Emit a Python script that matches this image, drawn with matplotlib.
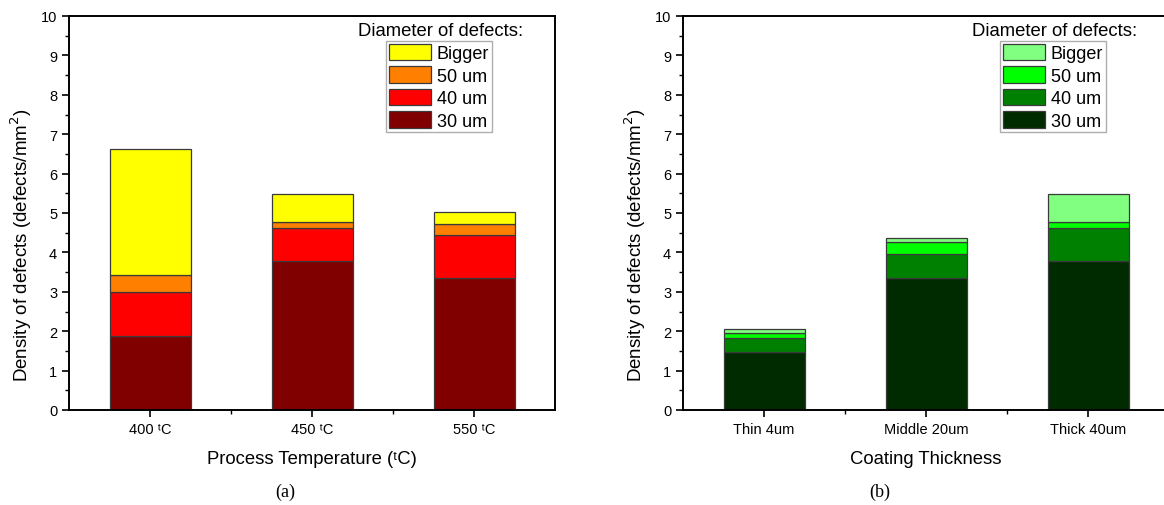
import numpy as np
import matplotlib
matplotlib.use("Agg")
import matplotlib.pyplot as plt
from matplotlib.patches import Patch
from matplotlib.ticker import MultipleLocator

plt.rcParams['font.family'] = ['Liberation Sans', 'DejaVu Sans']

# --- dados (a): temperatura de processo ---
temp_labels = ["400 \u1d57C", "450 \u1d57C", "550 \u1d57C"]
temp_30um = [1.88, 3.78, 3.35]
temp_40um = [1.12, 0.85, 1.10]
temp_50um = [0.43, 0.13, 0.27]
temp_bigger = [3.19, 0.71, 0.31]

# --- dados (b): espessura do revestimento ---
coat_labels = ["Thin 4um", "Middle 20um", "Thick 40um"]
coat_30um = [1.48, 3.35, 3.78]
coat_40um = [0.35, 0.62, 0.85]
coat_50um = [0.12, 0.30, 0.13]
coat_bigger = [0.10, 0.10, 0.71]

series_names = ["30 um", "40 um", "50 um", "Bigger"]
cores_a = ["#800000", "#FF0000", "#FF8000", "#FFFF00"]
cores_b = ["#002B00", "#008000", "#00FF00", "#80FF80"]


def plotar_painel(ax, labels, series, cores, xlabel):
    x = np.arange(1, len(labels) + 1)
    base = np.zeros(len(labels))
    for vals, cor in zip(series, cores):
        ax.bar(x, vals, width=0.5, bottom=base, color=cor,
               edgecolor="#3a3a3a", linewidth=0.9, zorder=2)
        base += np.array(vals)

    ax.set_xlim(0.5, len(labels) + 0.5)
    ax.set_ylim(0, 10)
    ax.set_xticks(x)
    ax.set_xticklabels(labels, fontsize=10.5)
    ax.set_xticks(x[:-1] + 0.5, minor=True)
    ax.yaxis.set_major_locator(MultipleLocator(1))
    ax.yaxis.set_minor_locator(MultipleLocator(0.5))
    ax.tick_params(axis="both", which="major", direction="out", length=5,
                   width=1.2, labelsize=10.5, top=False, right=False)
    ax.tick_params(axis="both", which="minor", direction="out", length=3,
                   width=1.0, top=False, right=False)
    for sp in ax.spines.values():
        sp.set_linewidth(1.4)

    ax.set_xlabel(xlabel, fontsize=13.3, labelpad=10)
    ax.set_ylabel("Density of defects (defects/mm$^2$)", fontsize=13.5)
    ax.yaxis.set_label_coords(-0.072, 0.42)

    # legenda com título fora da caixa (estilo Origin)
    handles = [Patch(facecolor=c, edgecolor="#3a3a3a", linewidth=0.9)
               for c in cores[::-1]]
    leg = ax.legend(handles, series_names[::-1], loc="upper left",
                    bbox_to_anchor=(0.653, 0.937), fontsize=13,
                    frameon=True, fancybox=False, edgecolor="#999999",
                    handlelength=2.3, handleheight=1.05, handletextpad=0.35,
                    borderpad=0.15, labelspacing=0.22, borderaxespad=0)
    leg.get_frame().set_linewidth(1.0)
    ax.text(0.765, 0.964, "Diameter of defects:", transform=ax.transAxes,
            ha="center", va="center", fontsize=13.3)


fig = plt.figure(figsize=(11.64, 5.06), dpi=100)
ax_a = fig.add_axes([69 / 1164, 95 / 506, 486 / 1164, 394 / 506])
ax_b = fig.add_axes([683 / 1164, 95 / 506, 486 / 1164, 394 / 506])

plotar_painel(ax_a, temp_labels, [temp_30um, temp_40um, temp_50um, temp_bigger],
              cores_a, "Process Temperature (\u1d57C)")
plotar_painel(ax_b, coat_labels, [coat_30um, coat_40um, coat_50um, coat_bigger],
              cores_b, "Coating Thickness")

fig.text(285 / 1164, 1 - 492 / 506, "(a)", ha="center", va="center",
         fontsize=13, family="Liberation Serif")
fig.text(880 / 1164, 1 - 492 / 506, "(b)", ha="center", va="center",
         fontsize=13, family="Liberation Serif")

fig.savefig("out.png", dpi=100)
